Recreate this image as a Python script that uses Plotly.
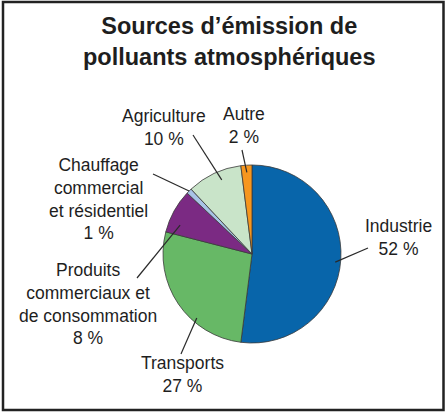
import math
import plotly.graph_objects as go

# -----------------------------
# Data
# -----------------------------
sources = [
    "Industrie",
    "Transports",
    "Produits commerciaux et de consommation",
    "Chauffage commercial et résidentiel",
    "Agriculture",
    "Autre",
]
shares = [52, 27, 8, 1, 10, 2]
label_texts = [
    "Industrie<br>52 %",
    "Transports<br>27 %",
    "Produits<br>commerciaux et<br>de consommation<br>8 %",
    "Chauffage<br>commercial<br>et résidentiel<br>1 %",
    "Agriculture<br>10 %",
    "Autre<br>2 %",
]
colors = ["#0865AA", "#67B866", "#7B2A83", "#A8C3E6", "#C9E4C9", "#F6961E"]

title_text = "<b>Sources d’émission de<br>polluants atmosphériques</b>"

# -----------------------------
# Layout geometry (pixels, origin top-left)
# -----------------------------
W, H = 446, 412
CX, CY, R = 252, 254, 89

# label block centres, leader line ends, tip radius fraction, tip angle offset
label_pos = [(398, 237), (182, 374), (88, 304), (98, 199), (164, 128), (244, 126)]
line_end = [(368, 248), (181, 354), (137, 278), (153, 174), (193, 135), (242, 150)]
tip_frac = [0.94, 0.95, 0.87, 1.0, 0.9, 0.92]
tip_shift = [2, -15, -7, 0, 3, 0]


def paper(x, y):
    return x / W, 1 - y / H


fig = go.Figure()

fig.add_trace(go.Pie(
    labels=sources,
    values=shares,
    sort=False,
    direction="clockwise",
    rotation=0,
    textinfo="none",
    hoverinfo="label+percent",
    marker=dict(colors=colors, line=dict(color="#3a3a3a", width=0.8)),
    domain=dict(x=[(CX - R) / W, (CX + R) / W],
                y=[1 - (CY + R) / H, 1 - (CY - R) / H]),
    showlegend=False,
))

# -----------------------------
# Labels + leader lines
# -----------------------------
total = sum(shares)
cum = 0
shapes = []
annotations = []
for i, v in enumerate(shares):
    mid = (cum + v / 2) / total * 360 + tip_shift[i]
    cum += v
    th = math.radians(mid)
    tx = CX + tip_frac[i] * R * math.sin(th)
    ty = CY - tip_frac[i] * R * math.cos(th)
    x0, y0 = paper(tx, ty)
    x1, y1 = paper(*line_end[i])
    shapes.append(dict(type="line", xref="paper", yref="paper",
                       x0=x0, y0=y0, x1=x1, y1=y1,
                       line=dict(color="#2a2a2a", width=1.2)))
    lx, ly = paper(*label_pos[i])
    annotations.append(dict(x=lx, y=ly, xref="paper", yref="paper",
                            text=label_texts[i], showarrow=False,
                            xanchor="center", yanchor="middle", align="center",
                            font=dict(family="Liberation Sans, Arial", size=17.5,
                                      color="#1e1e1e")))

tx, ty = paper(229, 42)
annotations.append(dict(x=tx, y=ty, xref="paper", yref="paper",
                        text=title_text, showarrow=False,
                        xanchor="center", yanchor="middle", align="center",
                        font=dict(family="Liberation Sans, Arial", size=23.5,
                                  color="#1e1e1e")))

# frame around the chart
shapes.append(dict(type="rect", xref="paper", yref="paper",
                   x0=3 / W, x1=443.5 / W, y0=1 - 410 / H, y1=1 - 2 / H,
                   line=dict(color="#222222", width=2.5)))

fig.update_layout(
    width=W,
    height=H,
    margin=dict(l=0, r=0, t=0, b=0),
    paper_bgcolor="white",
    plot_bgcolor="white",
    shapes=shapes,
    annotations=annotations,
)

# page has a default 8px body margin: drop it so the figure fills the window
fig.write_html("out.html",
               config={"displayModeBar": False},
               post_script="document.body.style.margin='0';"
                           "document.body.style.overflow='hidden';")
